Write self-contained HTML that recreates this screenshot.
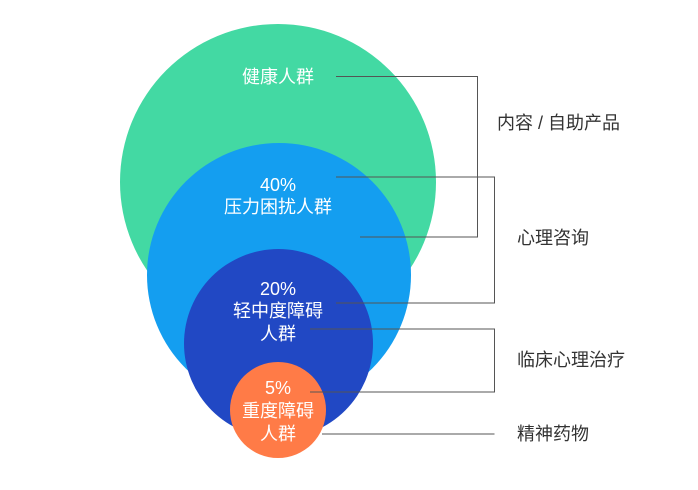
<!DOCTYPE html>
<html><head><meta charset="utf-8"><style>
html,body{margin:0;padding:0;background:#fff;}
svg{display:block;}
text{font-family:"Liberation Sans","Noto Sans CJK SC",sans-serif;}
</style></head><body>
<svg width="698" height="490" viewBox="0 0 698 490" xmlns="http://www.w3.org/2000/svg">
<circle cx="278" cy="182" r="158" fill="#43d9a3"/>
<circle cx="279" cy="275" r="132" fill="#149ef0"/>
<circle cx="278.5" cy="343.5" r="94.5" fill="#2148c4"/>
<circle cx="278" cy="410" r="48" fill="#ff7b47"/>
<g stroke="#555" stroke-width="1" fill="none">
<polyline points="336,76.5 477.5,76.5 477.5,237 360,237"/>
<polyline points="336,177 494.5,177 494.5,303 336,303"/>
<polyline points="310,329 494.5,329 494.5,392 310,392"/>
<line x1="322" y1="434" x2="494.5" y2="434"/>
</g>
<g fill="#fff" font-size="18" text-anchor="middle">
<text x="278" y="83">健康人群</text>
<text x="278" y="191">40%</text>
<text x="278" y="213">压力困扰人群</text>
<text x="278" y="295">20%</text>
<text x="278" y="317">轻中度障碍</text>
<text x="278" y="340">人群</text>
<text x="278" y="394">5%</text>
<text x="278" y="417">重度障碍</text>
<text x="278" y="440">人群</text>
</g>
<g fill="#333" font-size="18">
<text x="497" y="129">内容 / 自助产品</text>
<text x="517" y="244">心理咨询</text>
<text x="517" y="366">临床心理治疗</text>
<text x="517" y="440">精神药物</text>
</g>
</svg>
</body></html>
